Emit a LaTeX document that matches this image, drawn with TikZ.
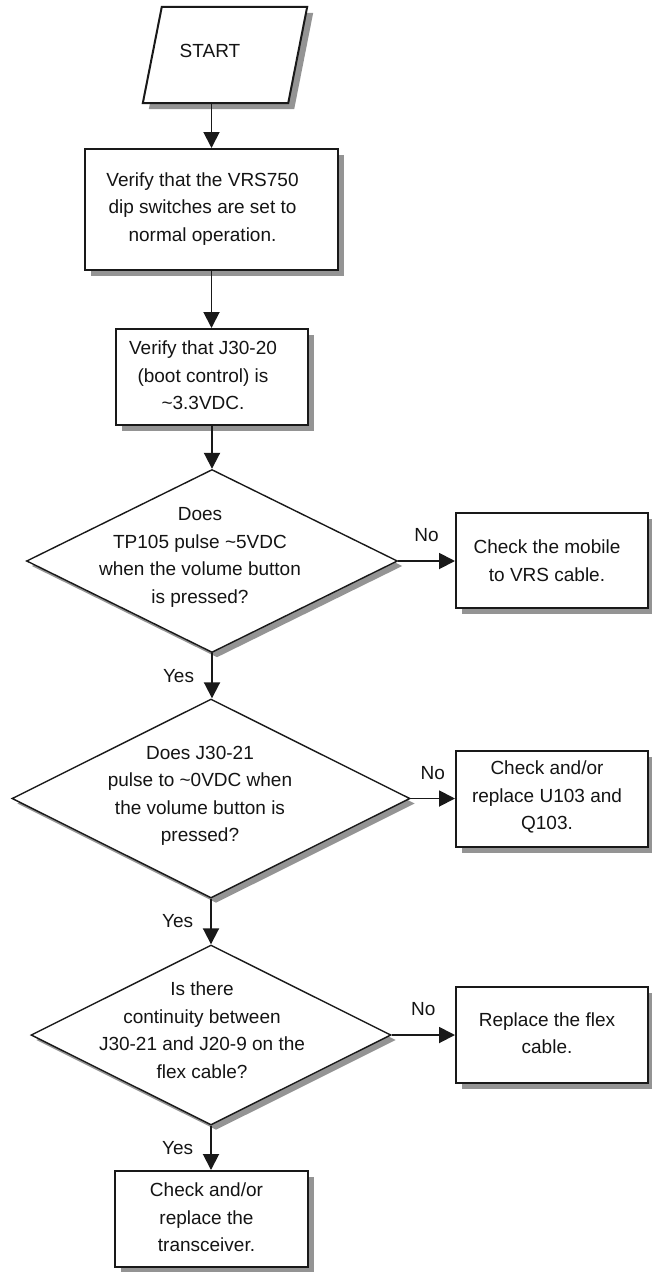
\documentclass[tikz,border=0pt]{standalone}
\usepackage{fontspec}
\setmainfont{Liberation Sans}
\usetikzlibrary{shapes.geometric,shadows,arrows.meta}
% text block of zero size, shifted left by #1 and down by #2
\newcommand{\mytxt}[3]{\raisebox{-#2}[0pt][0pt]{\makebox[0pt]{\hspace*{-#1}\hspace*{-#1}\begin{tabular}{@{}c@{}}#3\end{tabular}}}}
\begin{document}
\begin{tikzpicture}[x=1pt,y=-1pt,
  txt/.style={font=\fontsize{19}{27.5}\selectfont, text=black!92},
  shad/.style={drop shadow={shadow xshift=6pt,shadow yshift=-6pt,fill=black!42,opacity=1}},
  boxnode/.style={txt,draw=black!90,line width=2pt,fill=white,rectangle,inner sep=0pt,shad},
  decision/.style={txt,diamond,draw=black!90,line width=1.4pt,fill=white,inner sep=0pt,
    drop shadow={shadow xshift=5pt,shadow yshift=-5pt,fill=black!42,opacity=1}},
  arr/.style={draw=black!90,line width=1.9pt,-{Triangle[length=16pt,width=16pt]}},
  lbl/.style={txt,inner sep=0pt}
]
\useasboundingbox (0,0) rectangle (651,1272);

% START parallelogram
\node[txt,rectangle,inner sep=0pt,minimum width=164pt,minimum height=96pt] (start) at (225,55) {};
\draw[draw=black!90,line width=2pt,fill=white,shad]
  (start.south west) -- ([xshift=19pt]start.north west) -- (start.north east)
  -- ([xshift=-19pt]start.south east) -- cycle;
\node[txt,inner sep=0pt] (starttext) at (210,51) {START};

\node[boxnode,minimum width=253pt,minimum height=121pt] (b1) at (211.5,209.5) {\mytxt{9pt}{3pt}{Verify that the VRS750\\dip switches are set to\\normal operation.}};
\node[boxnode,minimum width=192pt,minimum height=96pt] (b2) at (212,377) {\mytxt{9pt}{4pt}{Verify that J30-20\\(boot control) is\\\textasciitilde3.3VDC.}};
\node[decision,minimum width=371pt,minimum height=183pt] (d1) at (212,561) {\mytxt{12pt}{0pt}{Does\\TP105 pulse \textasciitilde5VDC\\when the volume button\\is pressed?}};
\node[boxnode,minimum width=192pt,minimum height=95pt] (r1) at (552,560.5) {\mytxt{5pt}{6pt}{Check the mobile\\to VRS cable.}};
\node[decision,minimum width=398pt,minimum height=199pt] (d2) at (211,798.5) {\mytxt{11pt}{1pt}{Does J30-21\\pulse to \textasciitilde0VDC when\\the volume button is\\pressed?}};
\node[boxnode,minimum width=192pt,minimum height=96pt] (r2) at (552,799) {\mytxt{5pt}{2pt}{Check and/or\\replace U103 and\\Q103.}};
\node[decision,minimum width=360pt,minimum height=180pt] (d3) at (211,1035) {\mytxt{9pt}{1pt}{Is there\\continuity between\\J30-21 and J20-9 on the\\flex cable?}};
\node[boxnode,minimum width=192pt,minimum height=96pt] (r3) at (552,1035) {\mytxt{5pt}{4pt}{Replace the flex\\cable.}};
\node[boxnode,minimum width=193pt,minimum height=96pt] (b3) at (211.5,1219) {\mytxt{5pt}{4pt}{Check and/or\\replace the\\transceiver.}};

\draw[arr] (start.south -| b1.north) -- (b1.north);
\draw[arr] (b1.south) -- (b1.south |- b2.north);
\draw[arr] (b2.south) -- (b2.south |- d1.north);
\draw[arr] (d1.east) -- node[lbl,midway,above=18pt]{No} (d1.east -| r1.west);
\draw[arr] (d1.south) -- node[lbl,midway,left=17pt]{Yes} (d1.south |- d2.north);
\draw[arr] (d2.east) -- node[lbl,midway,above=18pt]{No} (d2.east -| r2.west);
\draw[arr] (d2.south) -- node[lbl,midway,left=17pt]{Yes} (d2.south |- d3.north);
\draw[arr] (d3.east) -- node[lbl,midway,above=18pt]{No} (d3.east -| r3.west);
\draw[arr] (d3.south) -- node[lbl,midway,left=17pt]{Yes} (d3.south |- b3.north);
\end{tikzpicture}
\end{document}
